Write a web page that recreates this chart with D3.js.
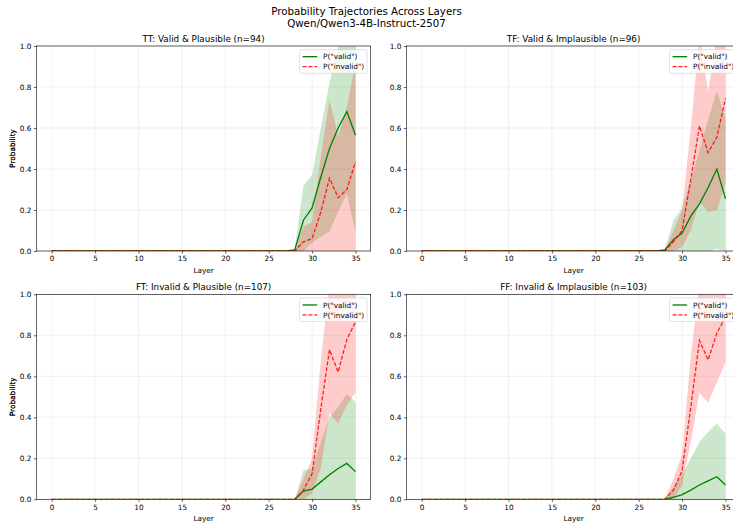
<!DOCTYPE html>
<html>
<head>
<meta charset="utf-8"/>
<title>Probability Trajectories Across Layers</title>
<script src="https://d3js.org/d3.v7.min.js"></script>
<style>
    body { margin: 0; background: #fff; }
    svg { display: block; font-family: "DejaVu Sans", sans-serif; }
    .tick text { font-size: 7.33px; fill: #000; }
    .tick line { stroke: #000; stroke-width: 0.6; }
</style>
</head>
<body>
<script>
// layer index on the x axis
var layers = [0,1,2,3,4,5,6,7,8,9,10,11,12,13,14,15,16,17,18,19,20,21,22,23,24,25,26,27,28,29,30,31,32,33,34,35];
var xTicks = [0, 5, 10, 15, 20, 25, 30, 35];
var yTicks = [0.0, 0.2, 0.4, 0.6, 0.8, 1.0];

// TT: Valid & Plausible
var ttValid     = [0,0,0,0,0,0,0, 0,0,0,0,0,0,0, 0,0,0,0,0,0,0, 0,0,0,0,0,0,0, 0.005,0.15,0.21,0.36,0.50,0.60,0.68,0.565];
var ttValidLo   = [0,0,0,0,0,0,0, 0,0,0,0,0,0,0, 0,0,0,0,0,0,0, 0,0,0,0,0,0,0, 0,0,0.04,0.07,0.095,0.19,0.28,0.09];
var ttValidHi   = [0,0,0,0,0,0,0, 0,0,0,0,0,0,0, 0,0,0,0,0,0,0, 0,0,0,0,0,0,0, 0.01,0.32,0.37,0.60,0.82,1.0,1.08,1.04];
var ttInvalid   = [0,0,0,0,0,0,0, 0,0,0,0,0,0,0, 0,0,0,0,0,0,0, 0,0,0,0,0,0,0, 0,0.045,0.06,0.19,0.355,0.26,0.30,0.435];
var ttInvalidLo = [0,0,0,0,0,0,0, 0,0,0,0,0,0,0, 0,0,0,0,0,0,0, 0,0,0,0,0,0,0, 0,0,0,0,0,0,0,0];
var ttInvalidHi = [0,0,0,0,0,0,0, 0,0,0,0,0,0,0, 0,0,0,0,0,0,0, 0,0,0,0,0,0,0, 0,0.12,0.14,0.46,0.74,0.56,0.70,0.92];

// TF: Valid & Implausible
var tfValid     = [0,0,0,0,0,0,0, 0,0,0,0,0,0,0, 0,0,0,0,0,0,0, 0,0,0,0,0,0,0, 0.005,0.055,0.088,0.17,0.23,0.31,0.40,0.255];
var tfValidLo   = [0,0,0,0,0,0,0, 0,0,0,0,0,0,0, 0,0,0,0,0,0,0, 0,0,0,0,0,0,0, 0,0,0,0,0,0,0.01,0];
var tfValidHi   = [0,0,0,0,0,0,0, 0,0,0,0,0,0,0, 0,0,0,0,0,0,0, 0,0,0,0,0,0,0, 0.01,0.15,0.21,0.35,0.49,0.64,0.78,0.65];
var tfInvalid   = [0,0,0,0,0,0,0, 0,0,0,0,0,0,0, 0,0,0,0,0,0,0, 0,0,0,0,0,0,0, 0,0.045,0.10,0.35,0.61,0.48,0.555,0.745];
var tfInvalidLo = [0,0,0,0,0,0,0, 0,0,0,0,0,0,0, 0,0,0,0,0,0,0, 0,0,0,0,0,0,0, 0,0,0.02,0.10,0.24,0.19,0.20,0.33];
var tfInvalidHi = [0,0,0,0,0,0,0, 0,0,0,0,0,0,0, 0,0,0,0,0,0,0, 0,0,0,0,0,0,0, 0,0.10,0.20,0.60,1.05,0.78,1.05,1.10];

// FT: Invalid & Plausible
var ftValid     = [0,0,0,0,0,0,0, 0,0,0,0,0,0,0, 0,0,0,0,0,0,0, 0,0,0,0,0,0,0, 0,0.04,0.05,0.085,0.12,0.15,0.175,0.135];
var ftValidLo   = [0,0,0,0,0,0,0, 0,0,0,0,0,0,0, 0,0,0,0,0,0,0, 0,0,0,0,0,0,0, 0,0,0,0,0,0,0,0];
var ftValidHi   = [0,0,0,0,0,0,0, 0,0,0,0,0,0,0, 0,0,0,0,0,0,0, 0,0,0,0,0,0,0, 0,0.14,0.15,0.28,0.40,0.45,0.515,0.475];
var ftInvalid   = [0,0,0,0,0,0,0, 0,0,0,0,0,0,0, 0,0,0,0,0,0,0, 0,0,0,0,0,0,0, 0,0.045,0.125,0.44,0.73,0.62,0.78,0.865];
var ftInvalidLo = [0,0,0,0,0,0,0, 0,0,0,0,0,0,0, 0,0,0,0,0,0,0, 0,0,0,0,0,0,0, 0,0,0.03,0.15,0.42,0.37,0.46,0.52];
var ftInvalidHi = [0,0,0,0,0,0,0, 0,0,0,0,0,0,0, 0,0,0,0,0,0,0, 0,0,0,0,0,0,0, 0,0.10,0.20,0.68,1.05,1.05,1.10,1.20];

// FF: Invalid & Implausible
var ffValid     = [0,0,0,0,0,0,0, 0,0,0,0,0,0,0, 0,0,0,0,0,0,0, 0,0,0,0,0,0,0, 0,0.01,0.023,0.045,0.07,0.09,0.11,0.07];
var ffValidLo   = [0,0,0,0,0,0,0, 0,0,0,0,0,0,0, 0,0,0,0,0,0,0, 0,0,0,0,0,0,0, 0,0,0,0,0,0,0,0];
var ffValidHi   = [0,0,0,0,0,0,0, 0,0,0,0,0,0,0, 0,0,0,0,0,0,0, 0,0,0,0,0,0,0, 0,0.06,0.12,0.20,0.28,0.33,0.37,0.32];
var ffInvalid   = [0,0,0,0,0,0,0, 0,0,0,0,0,0,0, 0,0,0,0,0,0,0, 0,0,0,0,0,0,0, 0,0.045,0.14,0.45,0.775,0.68,0.81,0.89];
var ffInvalidLo = [0,0,0,0,0,0,0, 0,0,0,0,0,0,0, 0,0,0,0,0,0,0, 0,0,0,0,0,0,0, 0,0,0.07,0.28,0.52,0.47,0.57,0.67];
var ffInvalidHi = [0,0,0,0,0,0,0, 0,0,0,0,0,0,0, 0,0,0,0,0,0,0, 0,0,0,0,0,0,0, 0,0.10,0.22,0.70,1.05,1.05,1.10,1.15];

var titles = ["TT: Valid & Plausible (n=94)", "TF: Valid & Implausible (n=96)",
              "FT: Invalid & Plausible (n=107)", "FF: Invalid & Implausible (n=103)"];
var legendLabels = ['P("valid")', 'P("invalid")'];

var W = 733, H = 524;
var fs = 7.33;           // base font px
var axW = 334.2, axH = 205;
var colX = [36.5, 406.5], rowY = [46, 294.3];
var lw = 1.3;

var panels = [
    {title: titles[0], v: ttValid, vLo: ttValidLo, vHi: ttValidHi, iv: ttInvalid, iLo: ttInvalidLo, iHi: ttInvalidHi, col: 0, row: 0},
    {title: titles[1], v: tfValid, vLo: tfValidLo, vHi: tfValidHi, iv: tfInvalid, iLo: tfInvalidLo, iHi: tfInvalidHi, col: 1, row: 0},
    {title: titles[2], v: ftValid, vLo: ftValidLo, vHi: ftValidHi, iv: ftInvalid, iLo: ftInvalidLo, iHi: ftInvalidHi, col: 0, row: 1},
    {title: titles[3], v: ffValid, vLo: ffValidLo, vHi: ffValidHi, iv: ffInvalid, iLo: ffInvalidLo, iHi: ffInvalidHi, col: 1, row: 1}
];

var svg = d3.select("body").append("svg")
    .attr("width", W)
    .attr("height", H);

svg.append("text")
    .attr("x", W / 2).attr("y", 14.5)
    .attr("text-anchor", "middle")
    .style("font-size", "10.27px")
    .text("Probability Trajectories Across Layers");
svg.append("text")
    .attr("x", W / 2).attr("y", 26.8)
    .attr("text-anchor", "middle")
    .style("font-size", "10.27px")
    .text("Qwen/Qwen3-4B-Instruct-2507");

var x = d3.scaleLinear().domain([-1.75, 36.75]).range([0, axW]);
var y = d3.scaleLinear().domain([0, 1]).range([axH, 0]);

panels.forEach(function (p, k) {
    var g = svg.append("g")
        .attr("transform", "translate(" + colX[p.col] + "," + rowY[p.row] + ")");

    g.append("clipPath").attr("id", "clip" + k)
        .append("rect").attr("width", axW).attr("height", axH);

    // grid
    g.append("g").selectAll("line.gx").data(xTicks).enter().append("line")
        .attr("x1", function (d) { return x(d); }).attr("x2", function (d) { return x(d); })
        .attr("y1", 0).attr("y2", axH)
        .attr("stroke", "#b0b0b0").attr("stroke-opacity", 0.3).attr("stroke-width", 0.6);
    g.append("g").selectAll("line.gy").data(yTicks).enter().append("line")
        .attr("y1", function (d) { return y(d); }).attr("y2", function (d) { return y(d); })
        .attr("x1", 0).attr("x2", axW)
        .attr("stroke", "#b0b0b0").attr("stroke-opacity", 0.3).attr("stroke-width", 0.6);

    var plot = g.append("g").attr("clip-path", "url(#clip" + k + ")");

    var bandV = d3.area()
        .x(function (d) { return x(d); })
        .y0(function (d) { return y(p.vLo[d]); })
        .y1(function (d) { return y(p.vHi[d]); });
    var bandI = d3.area()
        .x(function (d) { return x(d); })
        .y0(function (d) { return y(p.iLo[d]); })
        .y1(function (d) { return y(p.iHi[d]); });

    plot.append("path").datum(layers).attr("d", bandV)
        .attr("fill", "green").attr("fill-opacity", 0.2);
    plot.append("path").datum(layers).attr("d", bandI)
        .attr("fill", "red").attr("fill-opacity", 0.2);

    var lineV = d3.line().x(function (d) { return x(d); }).y(function (d) { return y(p.v[d]); });
    var lineI = d3.line().x(function (d) { return x(d); }).y(function (d) { return y(p.iv[d]); });

    plot.append("path").datum(layers).attr("d", lineV)
        .attr("fill", "none").attr("stroke", "green").attr("stroke-width", lw);
    plot.append("path").datum(layers).attr("d", lineI)
        .attr("fill", "none").attr("stroke", "red").attr("stroke-opacity", 0.85)
        .attr("stroke-width", lw).attr("stroke-dasharray", "4.1,1.8");

    // axes
    var xa = g.append("g").attr("transform", "translate(0," + axH + ")")
        .call(d3.axisBottom(x).tickValues(xTicks).tickSize(2.6).tickPadding(2.5).tickSizeOuter(0)
            .tickFormat(d3.format("d")));
    xa.select(".domain").remove();
    var ya = g.append("g")
        .call(d3.axisLeft(y).tickValues(yTicks).tickSize(2.6).tickPadding(2.5).tickSizeOuter(0)
            .tickFormat(d3.format(".1f")));
    ya.select(".domain").remove();
    g.selectAll(".tick text").attr("font-family", "DejaVu Sans");

    g.append("rect").attr("width", axW).attr("height", axH)
        .attr("fill", "none").attr("stroke", "#000").attr("stroke-width", 0.6);

    g.append("text")
        .attr("x", axW / 2).attr("y", axH + 21.5)
        .attr("text-anchor", "middle")
        .style("font-size", fs + "px")
        .text("Layer");
    g.append("text")
        .attr("transform", "translate(" + (12.7 - colX[p.col] + 2.6) + "," + (axH / 2) + ") rotate(-90)")
        .attr("text-anchor", "middle")
        .style("font-size", fs + "px")
        .text("Probability");

    g.append("text")
        .attr("x", axW / 2).attr("y", -4.3)
        .attr("text-anchor", "middle")
        .style("font-size", "8.8px")
        .text(p.title);

    // legend
    var lgW = 9.2 * fs, lgH = 23.6;
    var lg = g.append("g").attr("transform", "translate(" + (axW - 3.67 - lgW) + "," + 3.67 + ")");
    lg.append("rect").attr("width", lgW).attr("height", lgH).attr("rx", 1.5)
        .attr("fill", "#fff").attr("fill-opacity", 0.8)
        .attr("stroke", "#cccccc").attr("stroke-width", 0.6);
    legendLabels.forEach(function (lab, j) {
        var cy = 7 + j * 10;
        lg.append("line")
            .attr("x1", 0.4 * fs).attr("x2", 2.4 * fs).attr("y1", cy).attr("y2", cy)
            .attr("stroke", j === 0 ? "green" : "red")
            .attr("stroke-opacity", j === 0 ? 1 : 0.85)
            .attr("stroke-width", lw)
            .attr("stroke-dasharray", j === 0 ? null : "4.1,1.8");
        lg.append("text")
            .attr("x", 3.2 * fs).attr("y", cy + 2.6)
            .style("font-size", fs + "px")
            .text(lab);
    });
});
</script>
</body>
</html>
